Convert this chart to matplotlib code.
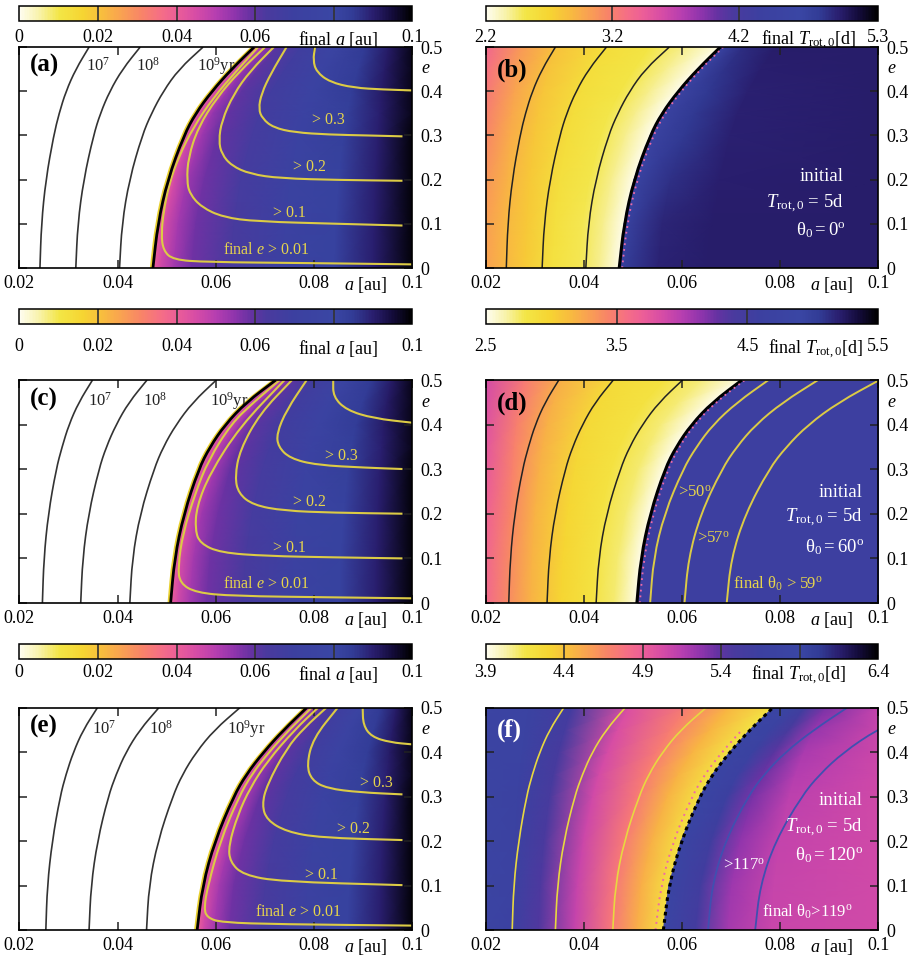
import numpy as np
import matplotlib.pyplot as plt
from matplotlib.colors import LinearSegmentedColormap, Normalize
from matplotlib.cm import ScalarMappable
from matplotlib.path import Path
from matplotlib.patches import PathPatch

plt.rcParams['font.family'] = 'Liberation Serif'
plt.rcParams['mathtext.fontset'] = 'custom'
plt.rcParams['mathtext.rm'] = 'Liberation Serif'
plt.rcParams['mathtext.it'] = 'Liberation Serif:italic'
plt.rcParams['mathtext.bf'] = 'Liberation Serif:bold'

E_S = np.array([0.0, 0.1, 0.2, 0.3, 0.35, 0.4, 0.45, 0.5])

# survival boundary a(e) for each row of panels
EDGE_1 = [0.0472, 0.0482, 0.0502, 0.0535, 0.0559, 0.0592, 0.0632, 0.0678]
EDGE_2 = [0.0508, 0.0516, 0.0535, 0.0565, 0.0588, 0.0619, 0.0662, 0.0722]
EDGE_3 = [0.0562, 0.0573, 0.0598, 0.0636, 0.0662, 0.0697, 0.0738, 0.0785]

# 1e7, 1e8, 1e9 yr lines, a(e)
TIME_1 = [[0.0242, 0.0245, 0.0254, 0.0270, 0.0281, 0.0295, 0.0315, 0.0342],
          [0.0315, 0.0319, 0.0331, 0.0351, 0.0365, 0.0384, 0.0410, 0.0446],
          [0.0404, 0.0409, 0.0424, 0.0450, 0.0469, 0.0493, 0.0525, 0.0574]]
TIME_2 = [[0.0247, 0.0250, 0.0259, 0.0275, 0.0287, 0.0301, 0.0321, 0.0349],
          [0.0325, 0.0329, 0.0341, 0.0362, 0.0377, 0.0397, 0.0423, 0.0460],
          [0.0425, 0.0430, 0.0446, 0.0474, 0.0493, 0.0519, 0.0553, 0.0601]]
TIME_3 = [[0.0254, 0.0257, 0.0267, 0.0283, 0.0295, 0.0310, 0.0330, 0.0359],
          [0.0342, 0.0346, 0.0359, 0.0381, 0.0397, 0.0417, 0.0445, 0.0484],
          [0.0459, 0.0464, 0.0482, 0.0512, 0.0532, 0.0560, 0.0597, 0.0649]]
TIME_LABELS = ['10$^7$', '10$^8$', '10$^9$yr']
TIME_LABEL_A = {1: [0.0336, 0.0438, 0.0561], 2: [0.0340, 0.0452, 0.0588],
                3: [0.0347, 0.0463, 0.0622]}
TIME_LABEL_E = {1: 0.446, 2: 0.442, 3: 0.442}

# final-e contours (a, e) for panels a, c, e
ECC_1 = {
    '0.01': ([0.0686, 0.0642, 0.0595, 0.0554, 0.0524, 0.0505, 0.0494, 0.0489, 0.0493, 0.0513, 0.0581, 0.0785, 0.1],
             [0.5, 0.4459, 0.3857, 0.3181, 0.2504, 0.1902, 0.1301, 0.0774, 0.0398, 0.0188, 0.0135, 0.0113, 0.0083]),
    '0.1': ([0.0700, 0.0649, 0.0602, 0.0564, 0.0544, 0.0541, 0.0547, 0.0571, 0.0615, 0.0683, 0.0853, 0.098],
            [0.5, 0.4459, 0.3857, 0.3181, 0.2504, 0.1977, 0.1677, 0.1376, 0.1150, 0.1053, 0.1000, 0.0962]),
    '0.2': ([0.0718, 0.0670, 0.0636, 0.0612, 0.0606, 0.0612, 0.0632, 0.0670, 0.0731, 0.0853, 0.098],
            [0.5, 0.4459, 0.3932, 0.3331, 0.2880, 0.2579, 0.2316, 0.2128, 0.2030, 0.1992, 0.1975]),
    '0.3': ([0.0744, 0.0712, 0.0693, 0.0687, 0.0695, 0.0717, 0.0760, 0.0830, 0.0910, 0.098],
            [0.5, 0.44, 0.395, 0.36, 0.338, 0.318, 0.307, 0.302, 0.300, 0.298]),
    '0.4': ([0.0802, 0.0798, 0.0805, 0.0832, 0.0880, 0.0941, 0.1],
            [0.5, 0.470, 0.444, 0.421, 0.408, 0.404, 0.402]),
}
ECC_2 = {
    '0.01': ([0.0730, 0.0677, 0.0632, 0.0585, 0.0558, 0.0533, 0.0523, 0.0527, 0.0560, 0.0636, 0.0839, 0.1],
             [0.5, 0.45, 0.4028, 0.3206, 0.2459, 0.1562, 0.0815, 0.0441, 0.0232, 0.0157, 0.0127, 0.0105]),
    '0.1': ([0.0740, 0.0649, 0.0588, 0.0561, 0.0558, 0.0568, 0.0609, 0.0704, 0.0839, 0.098],
            [0.5, 0.3954, 0.2907, 0.2160, 0.1637, 0.1338, 0.1129, 0.1054, 0.1024, 0.1001]),
    '0.2': ([0.0755, 0.0690, 0.0649, 0.0639, 0.0646, 0.0676, 0.0738, 0.0839, 0.098],
            [0.5, 0.4253, 0.3431, 0.2833, 0.2459, 0.2197, 0.2070, 0.2025, 0.2003]),
    '0.3': ([0.0785, 0.0744, 0.0724, 0.0727, 0.0751, 0.0805, 0.0907, 0.098],
            [0.5, 0.4327, 0.3804, 0.3505, 0.3244, 0.3094, 0.3034, 0.3005]),
    '0.4': ([0.0839, 0.0839, 0.0866, 0.0921, 0.1],
            [0.5, 0.4626, 0.4327, 0.4141, 0.4043]),
}
ECC_3 = {
    '0.01': ([0.0795, 0.0749, 0.0708, 0.0673, 0.0647, 0.0609, 0.0584, 0.0576, 0.0582, 0.0612, 0.0731, 0.1],
             [0.5, 0.45, 0.4, 0.35, 0.3, 0.2, 0.1, 0.05, 0.028, 0.017, 0.013, 0.010]),
    '0.1': ([0.0808, 0.0760, 0.0705, 0.0670, 0.0645, 0.0626, 0.0629, 0.0656, 0.0731, 0.098],
            [0.5, 0.45, 0.38, 0.32, 0.26, 0.19, 0.153, 0.124, 0.109, 0.101]),
    '0.2': ([0.0825, 0.0780, 0.0744, 0.0704, 0.0694, 0.0704, 0.0744, 0.0812, 0.098],
            [0.5, 0.455, 0.4086, 0.3261, 0.2811, 0.2474, 0.2212, 0.2077, 0.2024]),
    '0.3': ([0.0848, 0.0798, 0.0785, 0.0795, 0.0826, 0.0894, 0.098],
            [0.5, 0.4310, 0.3711, 0.3374, 0.3186, 0.3096, 0.3051]),
    '0.4': ([0.0899, 0.0900, 0.0917, 0.0955, 0.1],
            [0.5, 0.4610, 0.4348, 0.4221, 0.4176]),
}
ECC_LABELS = ['> 0.3', '> 0.2', '> 0.1', 'final $e$ > 0.01']
ECC_LABEL_POS = {1: [(0.0795, 0.335), (0.0757, 0.229), (0.0717, 0.125), (0.0614, 0.041)],
                 2: [(0.0822, 0.330), (0.0757, 0.226), (0.0717, 0.123), (0.0614, 0.043)],
                 3: [(0.0894, 0.330), (0.0847, 0.227), (0.0782, 0.124), (0.0680, 0.041)]}

# obliquity contours in panels d and f, a(e)
OBL_D = [[0.0535, 0.0542, 0.0564, 0.0602, 0.0629, 0.0663, 0.0712, 0.0776],
         [0.0605, 0.0613, 0.0638, 0.0681, 0.0711, 0.0750, 0.0805, 0.0877],
         [0.0691, 0.0700, 0.0729, 0.0777, 0.0812, 0.0857, 0.0919, 0.1002]]
OBL_F = [[0.0653, 0.0661, 0.0688, 0.0734, 0.0767, 0.0810, 0.0868, 0.0936],
         [0.0749, 0.0759, 0.0790, 0.0843, 0.0880, 0.0929, 0.0996, 0.1086]]

# colour fields: columns are fractions between the boundary and a=0.1
# (left panels) or between a=0.02 and the boundary (inner part of b, d, f)
T_OUT_A = [0, 0.03, 0.08, 0.15, 0.3, 0.5, 0.7, 0.85, 1.0]
FINAL_A = [[0.040, 0.046, 0.052, 0.058, 0.064, 0.072, 0.082, 0.090, 0.099],
           [0.040, 0.046, 0.052, 0.058, 0.064, 0.072, 0.082, 0.090, 0.099],
           [0.040, 0.046, 0.053, 0.058, 0.065, 0.073, 0.082, 0.090, 0.099],
           [0.040, 0.047, 0.053, 0.059, 0.065, 0.074, 0.083, 0.090, 0.099],
           [0.041, 0.047, 0.054, 0.059, 0.066, 0.074, 0.083, 0.090, 0.098],
           [0.041, 0.047, 0.054, 0.060, 0.067, 0.075, 0.084, 0.091, 0.098],
           [0.041, 0.048, 0.055, 0.060, 0.067, 0.075, 0.084, 0.091, 0.098],
           [0.041, 0.048, 0.055, 0.061, 0.068, 0.076, 0.085, 0.091, 0.098]]

T_IN = [0, 0.15, 0.3, 0.5, 0.7, 0.85, 1.0]
TROT_B_IN = [[3.00, 2.88, 2.76, 2.57, 2.50, 2.40, 2.22],
             [3.02, 2.89, 2.77, 2.58, 2.50, 2.40, 2.22],
             [3.07, 2.91, 2.78, 2.59, 2.51, 2.40, 2.22],
             [3.15, 2.95, 2.79, 2.60, 2.51, 2.40, 2.22],
             [3.20, 2.97, 2.80, 2.60, 2.51, 2.40, 2.22],
             [3.25, 2.99, 2.80, 2.61, 2.52, 2.40, 2.22],
             [3.31, 3.02, 2.81, 2.61, 2.52, 2.40, 2.22],
             [3.38, 3.05, 2.82, 2.62, 2.52, 2.40, 2.22]]
T_OUT_B = [0, 0.15, 0.35, 1.0]
TROT_B_OUT = [[4.75, 4.97, 5.00, 5.00],
              [4.70, 4.95, 5.00, 5.00],
              [4.62, 4.90, 4.99, 5.00],
              [4.55, 4.85, 4.98, 5.00],
              [4.55, 4.84, 4.98, 5.00],
              [4.55, 4.85, 4.98, 5.00],
              [4.60, 4.88, 4.99, 5.00],
              [4.70, 4.92, 5.00, 5.00]]
TROT_D_IN = [[3.62, 3.40, 3.18, 2.98, 2.84, 2.74, 2.52],
             [3.64, 3.41, 3.19, 2.97, 2.84, 2.74, 2.52],
             [3.68, 3.43, 3.19, 2.96, 2.84, 2.74, 2.52],
             [3.74, 3.45, 3.20, 2.95, 2.85, 2.74, 2.52],
             [3.77, 3.46, 3.20, 2.94, 2.85, 2.74, 2.52],
             [3.80, 3.47, 3.20, 2.93, 2.85, 2.73, 2.52],
             [3.83, 3.49, 3.20, 2.93, 2.84, 2.73, 2.52],
             [3.86, 3.50, 3.20, 2.92, 2.84, 2.72, 2.52]]
TROT_D_OUT = 4.58
TROT_F_IN = [[5.80, 5.70, 5.45, 5.10, 4.75, 4.50, 4.20],
             [5.80, 5.71, 5.46, 5.09, 4.75, 4.49, 4.20],
             [5.80, 5.72, 5.48, 5.07, 4.74, 4.48, 4.20],
             [5.80, 5.74, 5.50, 5.05, 4.74, 4.47, 4.19],
             [5.80, 5.75, 5.51, 5.04, 4.73, 4.47, 4.19],
             [5.80, 5.76, 5.52, 5.03, 4.73, 4.46, 4.18],
             [5.80, 5.77, 5.54, 5.01, 4.72, 4.46, 4.18],
             [5.80, 5.78, 5.55, 5.00, 4.72, 4.45, 4.18]]
T_OUT_F = [0, 0.15, 0.3, 0.5, 1.0]
TROT_F_OUT = [[5.85, 5.55, 5.20, 5.08, 5.05],
              [5.85, 5.57, 5.22, 5.09, 5.05],
              [5.85, 5.60, 5.26, 5.10, 5.05],
              [5.85, 5.65, 5.32, 5.13, 5.05],
              [5.85, 5.68, 5.36, 5.15, 5.06],
              [5.85, 5.72, 5.42, 5.18, 5.07],
              [5.85, 5.76, 5.50, 5.24, 5.08],
              [5.85, 5.80, 5.58, 5.32, 5.10]]

# colour bars
CB_A = dict(lo=0.0, hi=0.1, ticks=[0, 0.02, 0.04, 0.06, 0.0812, 0.1],
            labels=['0', '0.02', '0.04', '0.06', 'final $a$ [au]', '0.1'],
            lines=[0.02, 0.04, 0.06, 0.08])
CB_B = dict(lo=2.2, hi=5.3, ticks=[2.2, 3.2, 4.2, 4.747, 5.3],
            labels=['2.2', '3.2', '4.2', r'final $T_{\rm rot,0}$[d]', '5.3'], lines=[3.2, 4.2])
CB_D = dict(lo=2.5, hi=5.5, ticks=[2.5, 3.5, 4.5, 5.02, 5.5],
            labels=['2.5', '3.5', '4.5', r'final $T_{\rm rot,0}$[d]', '5.5'], lines=[3.5, 4.5])
CB_F = dict(lo=3.9, hi=6.4, ticks=[3.9, 4.4, 4.9, 5.4, 5.89, 6.4],
            labels=['3.9', '4.4', '4.9', '5.4', r'final $T_{\rm rot,0}$[d]', '6.4'],
            lines=[4.4, 4.9, 5.4, 5.9])

A_TICKS = [0.02, 0.04, 0.06, 0.08, 0.1]
A_TICK_LABELS = ['0.02', '0.04', '0.06', '0.08', '0.1']
E_TICKS = [0, 0.1, 0.2, 0.3, 0.4, 0.5]
E_TICK_LABELS = ['0', '0.1', '0.2', '0.3', '0.4', '0.5']

CMAP = LinearSegmentedColormap.from_list('gp', [
    (0.00, '#fefdf0'), (0.05, '#f8f2a8'), (0.10, '#f3e646'), (0.16, '#f6d532'),
    (0.21, '#f8bd3e'), (0.26, '#f9a152'), (0.31, '#f88468'), (0.36, '#f56e86'),
    (0.40, '#ec5e98'), (0.45, '#d64ca6'), (0.50, '#b63eb0'), (0.55, '#8d34ac'),
    (0.59, '#6532a2'), (0.63, '#4a3a9e'), (0.70, '#3c40a0'), (0.80, '#3a46a4'),
    (0.85, '#323c96'), (0.90, '#2a1f70'), (0.95, '#140c3c'), (1.00, '#000000')])

YEL = '#dccb45'
PINK = '#f06aa6'


def mesh_out(edge, t):
    edge = np.asarray(edge)[:, None]
    X = edge + np.asarray(t)[None, :] * (0.1 - edge)
    Y = np.repeat(E_S[:, None], len(t), axis=1)
    return X, Y


def mesh_in(edge, t):
    edge = np.asarray(edge)[:, None]
    X = 0.02 + np.asarray(t)[None, :] * (edge - 0.02)
    Y = np.repeat(E_S[:, None], len(t), axis=1)
    return X, Y


def curve(ax, a, e, color, lw, ls='-', zorder=3):
    # quadratic B-spline path through the read points, drawn by matplotlib
    pts = np.column_stack([a, e])
    mids = (pts[:-1] + pts[1:]) / 2
    verts = [pts[0], mids[0]]
    codes = [Path.MOVETO, Path.LINETO]
    for i in range(1, len(pts) - 1):
        verts += [pts[i], mids[i]]
        codes += [Path.CURVE3, Path.CURVE3]
    verts.append(pts[-1])
    codes.append(Path.LINETO)
    ax.add_patch(PathPatch(Path(verts, codes), fill=False, edgecolor=color, lw=lw,
                           ls=ls, zorder=zorder, capstyle='butt'))


def frame(ax, letter, color, ly):
    ax.set_xlim(0.02, 0.1)
    ax.set_ylim(0, 0.5)
    ax.set_xticks(A_TICKS, A_TICK_LABELS)
    ax.set_xticks([0.0905], ['$a$ [au]'], minor=True)
    ax.set_yticks(E_TICKS, E_TICK_LABELS)
    ax.set_yticks([0.455], ['$e$'], minor=True)
    ax.tick_params(which='both', direction='in', top=True, right=True, left=True,
                   bottom=True, labelleft=False, labelright=True, labelsize=13)
    ax.tick_params(which='major', length=6, width=1.1, color='#222222')
    ax.tick_params(which='minor', length=0)
    ax.tick_params(axis='x', which='both', pad=5)
    ax.tick_params(axis='y', which='both', pad=6)
    for s in ax.spines.values():
        s.set_linewidth(1.2)
        s.set_zorder(8)
    ax.text(0.028, ly, letter, transform=ax.transAxes, fontsize=18,
            fontweight='bold', color=color, va='center', ha='left', zorder=10)


def colorbar(fig, rect, cb, pad):
    cax = fig.add_axes(rect)
    norm = Normalize(cb['lo'], cb['hi'])
    bar = fig.colorbar(ScalarMappable(norm=norm, cmap=CMAP), cax=cax,
                       orientation='horizontal')
    bar.set_ticks(cb['ticks'])
    bar.set_ticklabels(cb['labels'])
    cax.tick_params(length=0, labelsize=13, pad=pad)
    for v in cb['lines']:
        cax.axvline(v, color='#333333', lw=1.2)
    bar.outline.set_linewidth(1.1)
    return norm


def time_lines(ax, lines, color, lw=1.2):
    for a in lines:
        curve(ax, a, E_S, color, lw)


fig = plt.figure(figsize=(9.15, 9.59), dpi=100)

LEFT = (0.0211, 0.4295)
RIGHT = (0.5308, 0.4292)
ROWS = [(0.7205, 0.2304), (0.3712, 0.2325), (0.0302, 0.2318)]
CB_Y = [0.9781, 0.6621, 0.3125]
CB_H = 0.0156
CB_PAD = [6, 10, 3.5]
LETTER_Y = {'a': 0.918, 'b': 0.896, 'c': 0.913, 'd': 0.895, 'e': 0.918, 'f': 0.900}

edges = [EDGE_1, EDGE_2, EDGE_3]
times = [TIME_1, TIME_2, TIME_3]
eccs = [ECC_1, ECC_2, ECC_3]

# left column: final semi-major axis
for r, letter in enumerate(['a', 'c', 'e']):
    norm = colorbar(fig, [LEFT[0], CB_Y[r], LEFT[1], CB_H], CB_A, CB_PAD[r])
    ax = fig.add_axes([LEFT[0], ROWS[r][0], LEFT[1], ROWS[r][1]])
    X, Y = mesh_out(edges[r], T_OUT_A)
    ax.pcolormesh(X, Y, np.array(FINAL_A), shading='gouraud', cmap=CMAP, norm=norm,
                  zorder=1)
    time_lines(ax, times[r], '#333333')
    for lab, xa in zip(TIME_LABELS, TIME_LABEL_A[r + 1]):
        ax.text(xa, TIME_LABEL_E[r + 1], lab, fontsize=12, va='baseline', ha='left',
                color='#222222', zorder=5)
    for lev, (a, e) in eccs[r].items():
        curve(ax, a, e, YEL, 1.5, zorder=4)
    curve(ax, np.array(edges[r]) - 0.0004, E_S, '#e8d030', 1.6, zorder=4)
    curve(ax, edges[r], E_S, 'black', 2.0, zorder=5)
    for lab, (xa, ye) in zip(ECC_LABELS, ECC_LABEL_POS[r + 1]):
        ax.text(xa, ye, lab, fontsize=11.5, color='#e6d44c', va='center', ha='left',
                zorder=6)
    frame(ax, '(%s)' % letter, 'black', LETTER_Y[letter])

# right column: final rotation period
right_specs = [
    ('b', CB_B, TROT_B_IN, T_OUT_B, TROT_B_OUT, '0', 0.093, [0.2066, 0.146, 0.086]),
    ('d', CB_D, TROT_D_IN, None, TROT_D_OUT, '60', 0.0967, [0.247, 0.19, 0.126]),
    ('f', CB_F, TROT_F_IN, T_OUT_F, TROT_F_OUT, '120', 0.0967, [0.292, 0.229, 0.169]),
]
for r, (letter, cb, v_in, t_out, v_out, theta, tx, ty) in enumerate(right_specs):
    norm = colorbar(fig, [RIGHT[0], CB_Y[r], RIGHT[1], CB_H], cb, CB_PAD[r])
    ax = fig.add_axes([RIGHT[0], ROWS[r][0], RIGHT[1], ROWS[r][1]])
    X, Y = mesh_in(edges[r], T_IN)
    ax.pcolormesh(X, Y, np.array(v_in), shading='gouraud', cmap=CMAP, norm=norm, zorder=1)
    if t_out is None:
        ax.fill_betweenx(E_S, edges[r], 0.1, color=CMAP(norm(v_out)), lw=0, zorder=1)
    else:
        X, Y = mesh_out(edges[r], t_out)
        ax.pcolormesh(X, Y, np.array(v_out), shading='gouraud', cmap=CMAP, norm=norm,
                      zorder=1)
    edge = np.array(edges[r])
    if letter == 'f':
        time_lines(ax, times[r], '#e8d840', lw=1.2)
        for a in OBL_F:
            curve(ax, a, E_S, '#4050b0', 1.3)
        curve(ax, edge[:-1] - 0.0016, E_S[:-1], PINK, 1.4, ls=(0, (1, 2.2)), zorder=4)
        curve(ax, edge, E_S, 'black', 2.2, ls=(0, (1.2, 1.2)), zorder=5)
        ax.text(0.0684, 0.145, r'>117$^{\rm o}$', fontsize=12, color='white',
                ha='left', va='center', zorder=6)
        ax.text(0.0763, 0.041, r'final $\mathrm{\theta}_0$>119$^{\rm o}$', fontsize=12,
                color='white', ha='left', va='center', zorder=6)
        lcolor = 'white'
    else:
        time_lines(ax, times[r], '#222222', lw=1.1)
        curve(ax, edge, E_S, 'black', 2.2, zorder=5)
        curve(ax, edge + 0.0006, E_S, PINK, 1.3, ls=(0, (1, 2.2)), zorder=5)
        lcolor = 'black'
    if letter == 'd':
        for a in OBL_D:
            curve(ax, a, E_S, YEL, 1.4)
        ax.text(0.0592, 0.247, r'>50$^{\rm o}$', fontsize=12, color='#e6d44c',
                ha='left', va='center', zorder=6)
        ax.text(0.0630, 0.145, r'>57$^{\rm o}$', fontsize=12, color='#e6d44c',
                ha='left', va='center', zorder=6)
        ax.text(0.0704, 0.044, r'final $\mathrm{\theta}_0$ > 59$^{\rm o}$', fontsize=12,
                color='#e6d44c', ha='left', va='center', zorder=6)
    ax.text(tx, ty[0], 'initial', fontsize=13.5, color='white', ha='right', va='center',
            zorder=6)
    ax.text(tx, ty[1], r'$T_{\rm rot,0}$ = 5d', fontsize=13.5, color='white', ha='right',
            va='center', zorder=6)
    ax.text(tx + 0.0003, ty[2], r'$\mathrm{\theta}_0 = %s^{\rm o}$' % theta, fontsize=13.5,
            color='white', ha='right', va='center', zorder=6)
    frame(ax, '(%s)' % letter, lcolor, LETTER_Y[letter])

fig.savefig('out.png', dpi=100)
